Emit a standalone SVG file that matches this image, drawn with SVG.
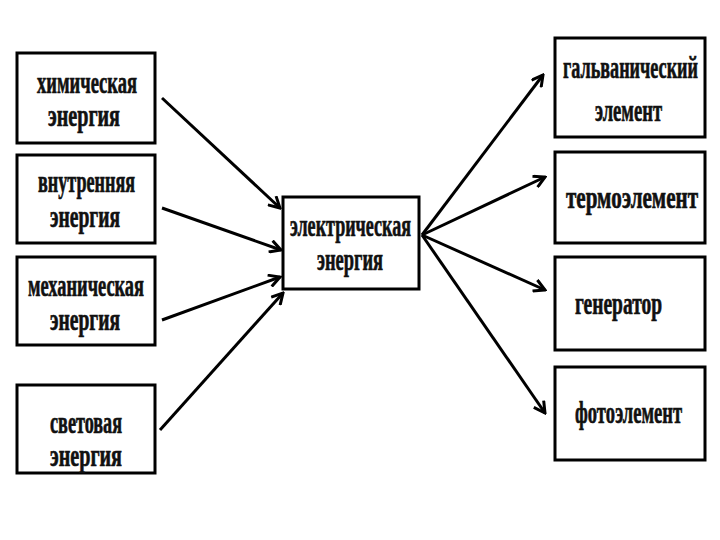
<svg xmlns="http://www.w3.org/2000/svg" width="720" height="540" viewBox="0 0 720 540">
<style>
.box{fill:#fff;stroke:#000;stroke-width:3}
.t{font-family:"Liberation Serif","DejaVu Serif",serif;font-weight:bold;font-size:32px;fill:#111;stroke:#111;stroke-width:0.7}
.c{stroke:#000;stroke-width:3;fill:none}
</style>
<defs>
<marker id="ah" viewBox="0 0 14 14" refX="12" refY="7" markerWidth="14" markerHeight="14" markerUnits="userSpaceOnUse" orient="auto">
<path d="M1,1 L12,7 L1,13" fill="none" stroke="#000" stroke-width="3"/>
</marker>
</defs>
<rect width="720" height="540" fill="#fff"/>
<g id="n-chem"><rect class="box" x="17" y="53" width="138" height="90"/>
<text class="t" x="37" y="93" textLength="100" lengthAdjust="spacingAndGlyphs">химическая</text>
<text class="t" x="48" y="126" textLength="72" lengthAdjust="spacingAndGlyphs">энергия</text></g>
<g id="n-internal"><rect class="box" x="17" y="155" width="138" height="88"/>
<text class="t" x="38" y="192" textLength="97" lengthAdjust="spacingAndGlyphs">внутренняя</text>
<text class="t" x="50" y="227" textLength="70" lengthAdjust="spacingAndGlyphs">энергия</text></g>
<g id="n-mech"><rect class="box" x="17" y="257" width="138" height="88"/>
<text class="t" x="28" y="296" textLength="116" lengthAdjust="spacingAndGlyphs">механическая</text>
<text class="t" x="50" y="330" textLength="70" lengthAdjust="spacingAndGlyphs">энергия</text></g>
<g id="n-light"><rect class="box" x="17" y="385" width="138" height="88"/>
<text class="t" x="50" y="433" textLength="72" lengthAdjust="spacingAndGlyphs">световая</text>
<text class="t" x="50" y="466" textLength="72" lengthAdjust="spacingAndGlyphs">энергия</text></g>
<g id="n-elec"><rect class="box" x="283" y="197" width="136" height="92"/>
<text class="t" x="290" y="236" textLength="121" lengthAdjust="spacingAndGlyphs">электрическая</text>
<text class="t" x="317" y="270" textLength="66" lengthAdjust="spacingAndGlyphs">энергия</text></g>
<g id="n-galv"><rect class="box" x="555" y="38" width="150" height="99"/>
<text class="t" x="563" y="78" textLength="135" lengthAdjust="spacingAndGlyphs">гальванический</text>
<text class="t" x="595" y="121" textLength="67" lengthAdjust="spacingAndGlyphs">элемент</text></g>
<g id="n-thermo"><rect class="box" x="555" y="152" width="150" height="91"/>
<text class="t" x="566" y="208" textLength="132" lengthAdjust="spacingAndGlyphs">термоэлемент</text></g>
<g id="n-gen"><rect class="box" x="555" y="257" width="150" height="93"/>
<text class="t" x="575" y="314" textLength="87" lengthAdjust="spacingAndGlyphs">генератор</text></g>
<g id="n-photo"><rect class="box" x="555" y="367" width="150" height="93"/>
<text class="t" x="575" y="423" textLength="107" lengthAdjust="spacingAndGlyphs">фотоэлемент</text></g>
<g id="connectors">
<line class="c" x1="162" y1="98" x2="280" y2="208" marker-end="url(#ah)"/>
<line class="c" x1="162" y1="208" x2="281" y2="250" marker-end="url(#ah)"/>
<line class="c" x1="162" y1="320" x2="280" y2="277" marker-end="url(#ah)"/>
<line class="c" x1="160" y1="430" x2="283" y2="293" marker-end="url(#ah)"/>
<line class="c" x1="422" y1="235" x2="543" y2="75" marker-end="url(#ah)"/>
<line class="c" x1="422" y1="235" x2="545" y2="177" marker-end="url(#ah)"/>
<line class="c" x1="422" y1="235" x2="545" y2="290" marker-end="url(#ah)"/>
<line class="c" x1="422" y1="235" x2="545" y2="413" marker-end="url(#ah)"/>
</g>
</svg>
